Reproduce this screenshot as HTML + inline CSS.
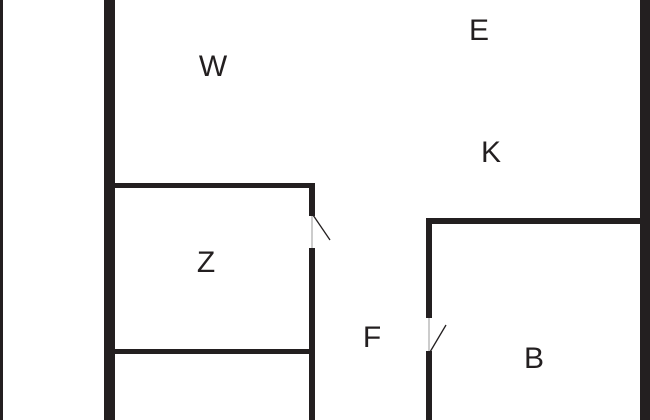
<!DOCTYPE html>
<html><head><style>
html,body{margin:0;padding:0;background:#fff;}
</style></head><body>
<svg width="650" height="420" xmlns="http://www.w3.org/2000/svg" style="display:block">
<rect width="650" height="420" fill="#fff"/>
<g fill="#231f20">
<rect x="0" y="0" width="3" height="420"/>
<rect x="104" y="0" width="11" height="420"/>
<rect x="640" y="0" width="10" height="420"/>
<rect x="115" y="183" width="200" height="5"/>
<rect x="309" y="183" width="6" height="33"/>
<rect x="309" y="248" width="6" height="172"/>
<rect x="115" y="349" width="194" height="5"/>
<rect x="426" y="218" width="6" height="100"/>
<rect x="426" y="351" width="6" height="69"/>
<rect x="426" y="218" width="214" height="6"/>
</g>
<line x1="312" y1="216" x2="312" y2="248" stroke="#999" stroke-width="1"/>
<line x1="429" y1="318" x2="429" y2="351" stroke="#999" stroke-width="1"/>
<line x1="313" y1="215" x2="330" y2="240" stroke="#231f20" stroke-width="1.3"/>
<line x1="430" y1="352" x2="446" y2="325" stroke="#231f20" stroke-width="1.3"/>
<g font-family="Liberation Sans, sans-serif" font-size="30" fill="#231f20" text-anchor="middle">
<text x="213" y="76">W</text>
<text x="479" y="40">E</text>
<text x="491" y="162">K</text>
<text x="206" y="272">Z</text>
<text x="372" y="347">F</text>
<text x="534" y="368">B</text>
</g>
</svg>
</body></html>
